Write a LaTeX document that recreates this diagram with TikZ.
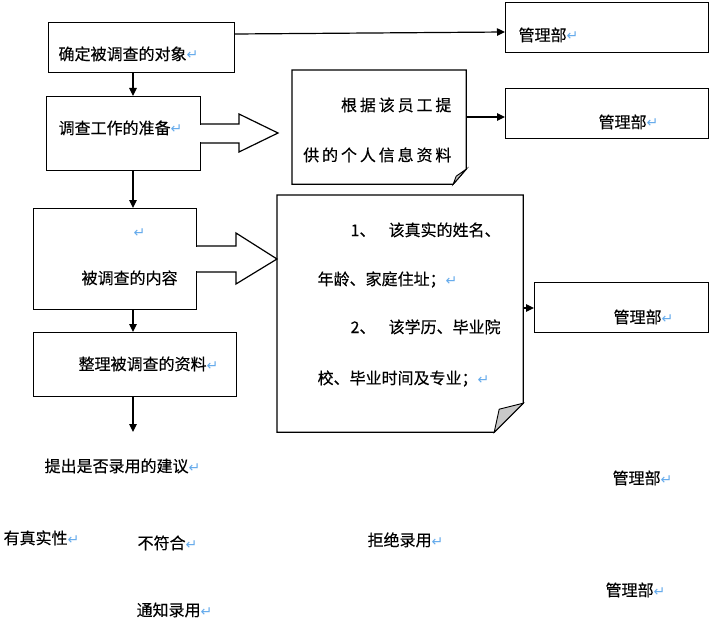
\documentclass[tikz,border=0pt]{standalone}
\usepackage{fontspec}
\setmainfont{Noto Sans CJK SC}[FakeBold=0.3]
\newfontfamily\symfont{DejaVu Sans}
\usetikzlibrary{arrows.meta}
\definecolor{retblue}{RGB}{100,170,235}
\definecolor{foldgray}{RGB}{200,200,200}
\newcommand{\retmark}{{\symfont\color{retblue}\fontsize{14}{14}\selectfont ↵}}
\begin{document}
\begin{tikzpicture}[x=1pt,y=-1pt,line width=1.2pt,
  box/.style={draw,rectangle,inner sep=0pt,anchor=north west},
  ghost/.style={rectangle,inner sep=0pt,anchor=north west},
  lbl/.style={inner sep=0pt,anchor=base west,font=\fontsize{16}{16}\selectfont},
  lblr/.style={inner sep=0pt,anchor=base east,font=\fontsize{16}{16}\selectfont\addfontfeature{LetterSpace=18}},
  arr/.style={-{Triangle[length=8pt,width=7.5pt]}},
  fold/.style={fill=foldgray,line width=0.9pt}]
\useasboundingbox (0,0) rectangle (720,623);

% boxes
\node[box,minimum width=186pt,minimum height=50pt] (b1) at (48,22) {};
\node[box,minimum width=203pt,minimum height=50pt] (m1) at (505,2) {};
\node[box,minimum width=154pt,minimum height=74pt] (b2) at (46,96) {};
\node[box,minimum width=203pt,minimum height=50pt] (m2) at (505,88) {};
\node[box,minimum width=163pt,minimum height=101pt] (b3) at (33,208) {};
\node[box,minimum width=203pt,minimum height=64pt] (b4) at (33,332) {};
\node[box,minimum width=174pt,minimum height=50pt] (m3) at (534,282) {};
\node[ghost,minimum width=173pt,minimum height=113pt] (n1) at (292,70) {};
\node[ghost,minimum width=245pt,minimum height=236pt] (n2) at (277,195) {};
\coordinate (end) at (133,432);

% notes with folded corner
\draw (n1.north west) -- (n1.north east) -- ([yshift=15pt]n1.south east)
  -- ([xshift=-13pt]n1.south east) -- (n1.south west) -- cycle;
\draw[fold] ([yshift=15pt]n1.south east) -- ([xshift=-10pt,yshift=8pt]n1.south east)
  -- ([xshift=-13pt]n1.south east) -- cycle;
\draw (n2.north west) -- (n2.north east) -- ([yshift=29pt]n2.south east)
  -- ([xshift=-29pt]n2.south east) -- (n2.south west) -- cycle;
\draw[fold] ([yshift=29pt]n2.south east) -- ([xshift=-24pt,yshift=23pt]n2.south east)
  -- ([xshift=-29pt]n2.south east) -- cycle;

% block arrows
\fill[white] ([yshift=-0.6pt]b2.east |- 0,124) rectangle ([xshift=-1pt,yshift=0.6pt]b2.east |- 0,143);
\draw[line join=miter] (b2.east |- 0,124) -- (239,124) -- (239,114) -- (278,133)
  -- (239,152) -- (239,143) -- (b2.east |- 0,143);
\fill[white] ([yshift=-0.6pt]b3.east |- 0,246) rectangle ([xshift=-1pt,yshift=0.6pt]b3.east |- 0,272);
\draw[line join=miter] (b3.east |- 0,246) -- (236,246) -- (236,233) -- (277,259)
  -- (236,284) -- (236,272) -- (b3.east |- 0,272);

% connectors
\draw[arr] (b1.east |- 0,34) -- (m1.west |- 0,32);
\draw[arr] (b1.south -| 133,0) -- (b2.north -| 133,0);
\draw[arr] (b2.south -| 133,0) -- (b3.north -| 133,0);
\draw[arr] (b3.south -| 133,0) -- (b4.north -| 133,0);
\draw[arr] (b4.south -| 133,0) -- (end);
\draw[arr] (n1.east |- 0,117) -- (m2.west |- 0,117);
\draw[arr] (n2.east |- 0,308) -- (m3.west |- 0,308);

% texts
\node[lbl] (t1) at (58,60) {确定被调查的对象\retmark};
\node[lbl] (tm1) at (518,41) {管理部\retmark};
\node[lbl] (t2) at (58,134) {调查工作的准备\retmark};
\node[lblr] (tn1a) at (452,111) {根据该员工提};
\node[lblr] (tn1b) at (452,161) {供的个人信息资料};
\node[lbl] (tm2) at (598,128) {管理部\retmark};
\node[lbl] (t3r) at (133,237) {\retmark};
\node[lbl] (t3) at (81,284) {被调查的内容};
\node[lbl] (t4) at (78,370) {整理被调查的资料\retmark};
\node[lbl] (tn2a1) at (350,236) {1、};
\node[lbl] (tn2a2) at (388,236) {该真实的姓名、};
\node[lbl] (tn2b) at (317,285) {年龄、家庭住址；\retmark};
\node[lbl] (tn2c1) at (350,333) {2、};
\node[lbl] (tn2c2) at (388,333) {该学历、毕业院};
\node[lbl] (tn2d) at (317,384) {校、毕业时间及专业；\retmark};
\node[lbl] (tm3) at (613,323) {管理部\retmark};
\node[lbl] (s1) at (44,472) {提出是否录用的建议\retmark};
\node[lbl] (s2) at (612,484) {管理部\retmark};
\node[lbl] (s3) at (3,544) {有真实性\retmark};
\node[lbl] (s4) at (137,549) {不符合\retmark};
\node[lbl] (s5) at (367,546) {拒绝录用\retmark};
\node[lbl] (s6) at (605,596) {管理部\retmark};
\node[lbl] (s7) at (136,616) {通知录用\retmark};
\end{tikzpicture}
\end{document}
